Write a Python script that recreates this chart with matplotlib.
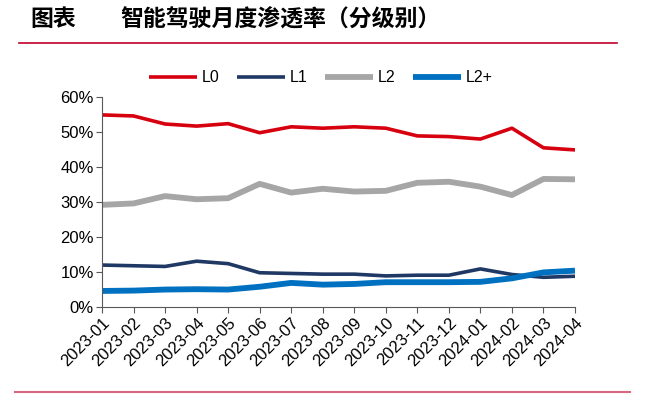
import matplotlib.pyplot as plt
from matplotlib.lines import Line2D

plt.rcParams['font.family'] = ['Liberation Sans', 'Noto Sans CJK SC', 'DejaVu Sans']

months = ['2023-01', '2023-02', '2023-03', '2023-04', '2023-05', '2023-06',
          '2023-07', '2023-08', '2023-09', '2023-10', '2023-11', '2023-12',
          '2024-01', '2024-02', '2024-03', '2024-04']
l0 = [54.8, 54.5, 52.2, 51.6, 52.3, 49.7, 51.4, 51.0, 51.4, 51.0, 48.8, 48.6,
      47.9, 51.0, 45.4, 44.8]
l1 = [11.9, 11.7, 11.5, 13.0, 12.3, 9.7, 9.5, 9.3, 9.3, 8.8, 9.0, 9.0,
      10.8, 9.2, 8.4, 8.7]
l2 = [29.1, 29.5, 31.6, 30.7, 31.0, 35.1, 32.6, 33.7, 32.9, 33.1, 35.4, 35.7,
      34.3, 31.9, 36.5, 36.4]
l2plus = [4.5, 4.6, 4.9, 5.0, 4.9, 5.7, 6.8, 6.3, 6.5, 7.0, 7.0, 7.0,
          7.1, 8.1, 9.8, 10.3]

W, H = 671, 396
fig = plt.figure(figsize=(W / 100, H / 100), dpi=100)

# title and red rules
fig.text(30 / W, 1 - 20 / H, '图表', family=['Noto Sans CJK SC'], fontweight='bold',
         fontsize=16.5, va='center', ha='left')
fig.text(120 / W, 1 - 20 / H, '智能驾驶月度渗透率（分级别）', family=['Noto Sans CJK SC'],
         fontweight='bold', fontsize=16.5, va='center', ha='left')
fig.add_artist(Line2D([19 / W, 617 / W], [1 - 43 / H, 1 - 43 / H], color='#C0002A', lw=1.2))
fig.add_artist(Line2D([15 / W, 630 / W], [1 - 392 / H, 1 - 392 / H], color='#D9667F', lw=1.5))

ax = fig.add_axes([102 / W, 1 - 306.7 / H, (575 - 102) / W, (306.7 - 96.7) / H])
x = range(len(months))
ax.plot(x, l0, color='#D7000F', lw=2.6, label='L0', solid_capstyle='butt')
ax.plot(x, l1, color='#1F3864', lw=2.6, label='L1', solid_capstyle='butt')
ax.plot(x, l2, color='#A6A6A6', lw=4.2, label='L2', solid_capstyle='butt')
ax.plot(x, l2plus, color='#0070C0', lw=4.2, label='L2+', solid_capstyle='butt')

ax.set_xlim(0, len(months) - 1)
ax.set_ylim(0, 60)
ax.set_yticks(range(0, 61, 10))
ax.set_yticklabels([f'{v}%' for v in range(0, 61, 10)], fontsize=12)
ax.set_xticks(list(x))
ax.set_xticklabels(months, rotation=45, ha='right', rotation_mode='anchor', fontsize=12)
for s in ['top', 'right']:
    ax.spines[s].set_visible(False)
for s in ['left', 'bottom']:
    ax.spines[s].set_color('#595959')
ax.tick_params(axis='both', direction='out', length=4, color='#595959', pad=2)

ax.legend(loc='center', bbox_to_anchor=(321 / W, 1 - 78 / H), bbox_transform=fig.transFigure,
          ncol=4, frameon=False, fontsize=11.5, handlelength=3.0, columnspacing=1.1,
          handletextpad=0.3, borderaxespad=0, borderpad=0)

fig.savefig('out.png', dpi=100)
